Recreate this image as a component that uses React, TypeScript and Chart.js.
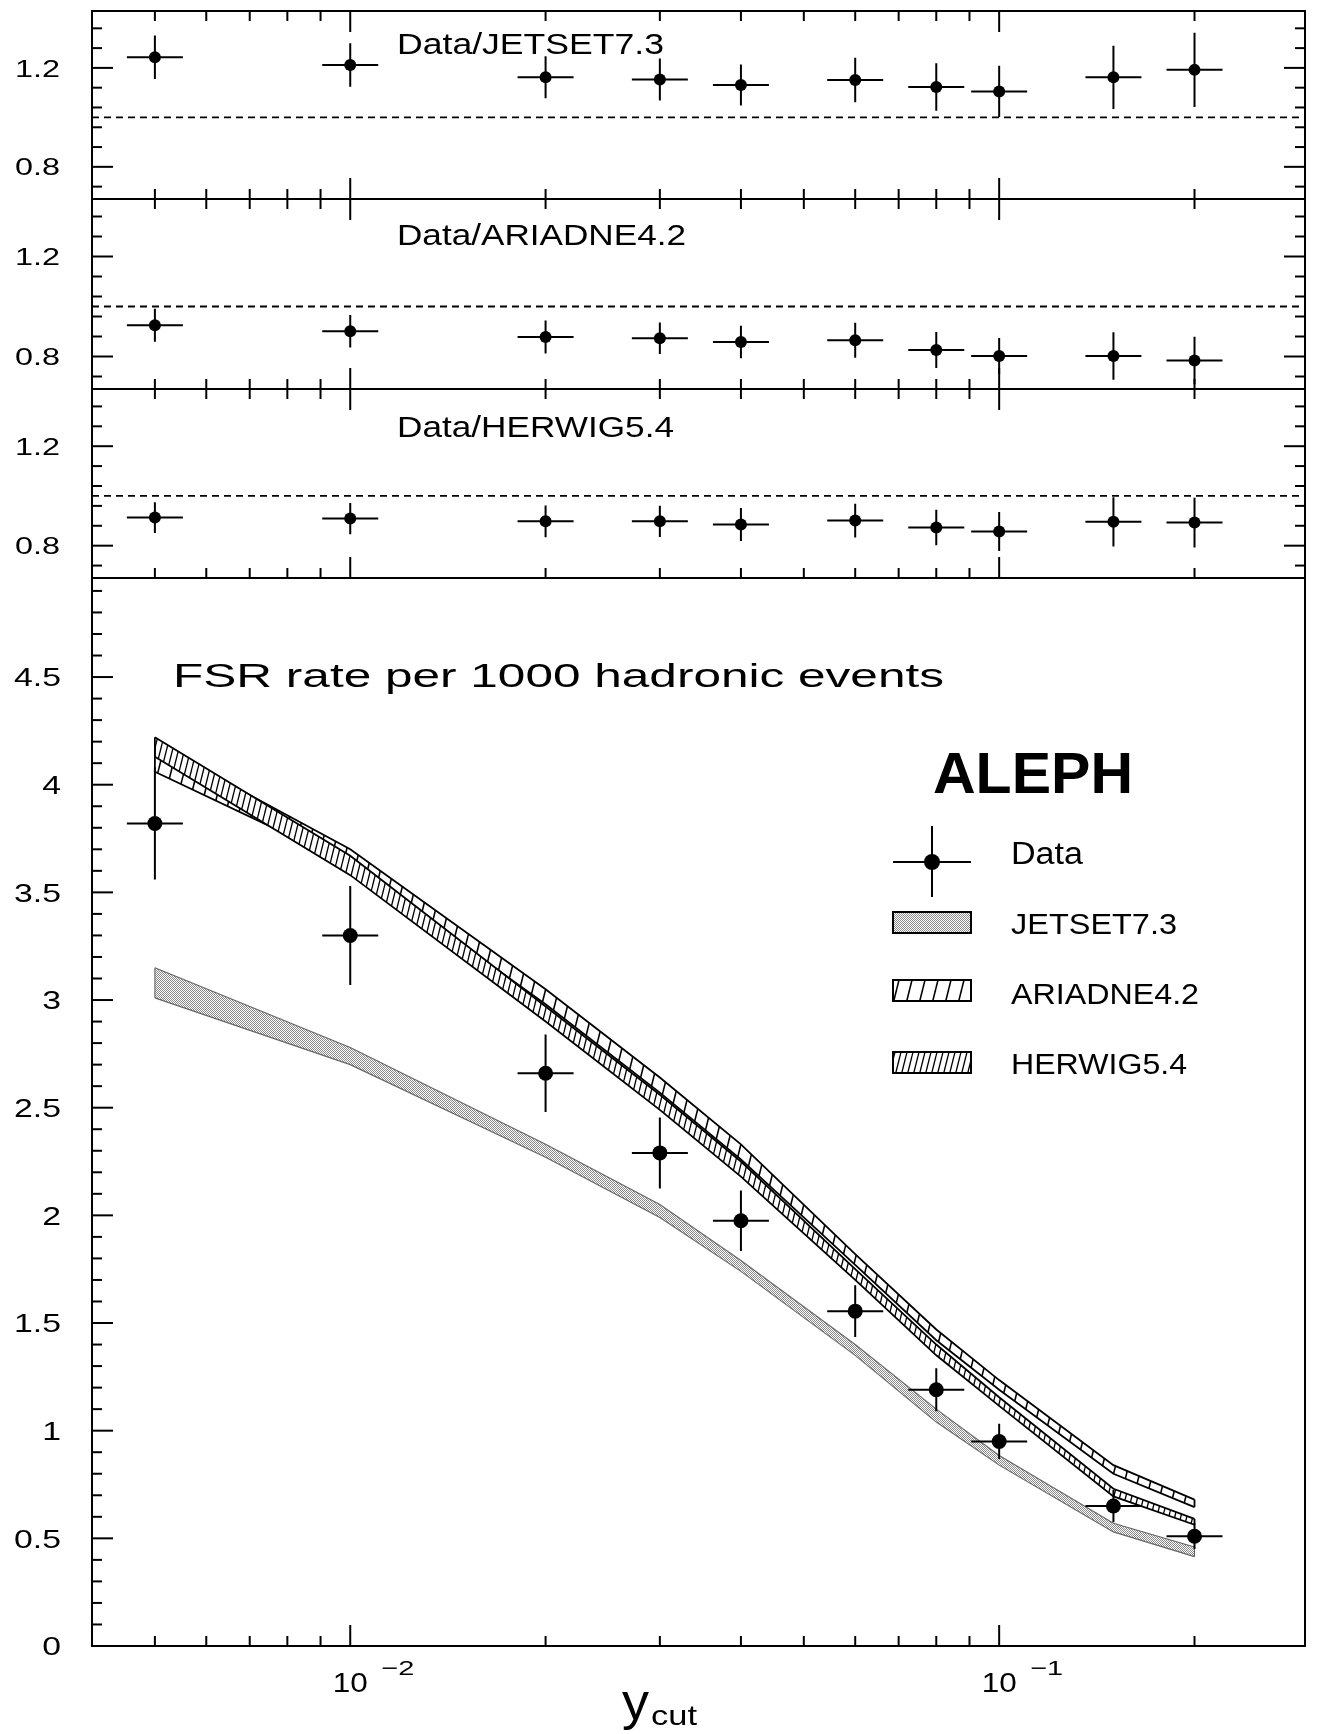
import React, { useEffect, useRef } from "react";
import { Chart, registerables } from "chart.js";

Chart.register(...registerables);

// ---------------- data ----------------
const yCut = [0.005, 0.01, 0.02, 0.03, 0.04, 0.06, 0.08, 0.1, 0.15, 0.2];

const fsrRate = [3.82, 3.3, 2.66, 2.29, 1.975, 1.555, 1.19, 0.95, 0.65, 0.51];
const fsrErr = [0.26, 0.23, 0.18, 0.165, 0.14, 0.12, 0.1, 0.082, 0.075, 0.06];

const jetsetLow = [3.01, 2.7, 2.27, 1.99, 1.74, 1.35, 1.04, 0.84, 0.53, 0.415];
const jetsetHigh = [3.15, 2.78, 2.33, 2.05, 1.79, 1.4, 1.1, 0.885, 0.57, 0.46];
const ariadneLow = [4.06, 3.63, 2.98, 2.57, 2.26, 1.77, 1.42, 1.19, 0.8, 0.645];
const ariadneHigh = [4.19, 3.7, 3.05, 2.64, 2.33, 1.82, 1.47, 1.235, 0.84, 0.68];
const herwigLow = [4.13, 3.58, 2.9, 2.49, 2.18, 1.7, 1.35, 1.115, 0.695, 0.563];
const herwigHigh = [4.22, 3.67, 2.97, 2.56, 2.25, 1.75, 1.4, 1.155, 0.73, 0.59];

const ratioJetset = [1.243, 1.212, 1.162, 1.153, 1.131, 1.151, 1.123, 1.105, 1.162, 1.192];
const ratioJetsetErr = [0.088, 0.088, 0.085, 0.085, 0.083, 0.09, 0.096, 0.104, 0.128, 0.15];
const ratioAriadne = [0.925, 0.901, 0.878, 0.873, 0.858, 0.865, 0.826, 0.802, 0.802, 0.784];
const ratioAriadneErr = [0.066, 0.065, 0.066, 0.063, 0.065, 0.07, 0.072, 0.072, 0.095, 0.095];
const ratioHerwig = [0.913, 0.909, 0.898, 0.898, 0.885, 0.901, 0.873, 0.857, 0.896, 0.893];
const ratioHerwigErr = [0.062, 0.063, 0.064, 0.063, 0.066, 0.068, 0.071, 0.078, 0.099, 0.1];
const ratioRef = 1.0;

// tick definitions
const xMajorTicks = [0.01, 0.1];
const xMajorExponents = ["\u22122", "\u22121"];
const xMinorTicks = [0.005, 0.006, 0.007, 0.008, 0.009, 0.02, 0.03, 0.04, 0.05, 0.06, 0.07, 0.08, 0.09, 0.2];
const ratioMajorTicks = [0.8, 1.2];
const ratioMajorLabels = ["0.8", "1.2"];
const ratioMinorTicks = [0.72, 0.88, 0.96, 1.04, 1.12, 1.28, 1.36];
const mainMajorTicks = [0, 0.5, 1, 1.5, 2, 2.5, 3, 3.5, 4, 4.5];
const mainMajorLabels = ["0", "0.5", "1", "1.5", "2", "2.5", "3", "3.5", "4", "4.5"];
const mainMinorTicks = [
  0.1, 0.2, 0.3, 0.4, 0.6, 0.7, 0.8, 0.9, 1.1, 1.2, 1.3, 1.4, 1.6, 1.7, 1.8, 1.9,
  2.1, 2.2, 2.3, 2.4, 2.6, 2.7, 2.8, 2.9, 3.1, 3.2, 3.3, 3.4, 3.6, 3.7, 3.8, 3.9,
  4.1, 4.2, 4.3, 4.4, 4.6, 4.7, 4.8, 4.9,
];

// ---------------- layout / style ----------------
const W = 1323;
const H = 1734;
const X_MIN = 0.004;
const X_MAX = 0.296;
const FRAME_L = 92;
const FRAME_R = 1305;
const RATIO_MIN = 0.67;
const RATIO_MAX = 1.43;
const MAIN_MIN = 0;
const MAIN_MAX = 4.96;
const FONT = "'Liberation Sans', Arial, sans-serif";

const RATIO_PANELS = [
  { top: 11, bottom: 199, title: "Data/JETSET7.3", titleRight: 664, titleBase: 54, values: ratioJetset, errors: ratioJetsetErr, topTicks: true },
  { top: 199, bottom: 389, title: "Data/ARIADNE4.2", titleRight: 686, titleBase: 245, values: ratioAriadne, errors: ratioAriadneErr, topTicks: true },
  { top: 389, bottom: 578, title: "Data/HERWIG5.4", titleRight: 674, titleBase: 437, values: ratioHerwig, errors: ratioHerwigErr, topTicks: true },
];
const MAIN_TOP = 578;
const MAIN_BOTTOM = 1646;

function drawText(
  ctx: CanvasRenderingContext2D,
  text: string,
  x: number,
  baseline: number,
  font: string,
  align: "left" | "right" | "center",
  opt: { width?: number; scaleX?: number } = {}
) {
  ctx.save();
  ctx.font = font;
  ctx.fillStyle = "#000";
  ctx.textAlign = "left";
  ctx.textBaseline = "alphabetic";
  const m = ctx.measureText(text).width;
  const sx = opt.width ? opt.width / m : opt.scaleX ?? 1;
  const w = m * sx;
  const left = align === "left" ? x : align === "right" ? x - w : x - w / 2;
  ctx.translate(left, baseline);
  ctx.scale(sx, 1);
  ctx.fillText(text, 0, 0);
  ctx.restore();
}

function makePattern(kind: "stipple" | "ariadne" | "herwig"): CanvasPattern {
  const c = document.createElement("canvas");
  if (kind === "stipple") {
    c.width = 2;
    c.height = 2;
    const g = c.getContext("2d")!;
    g.fillStyle = "#fff";
    g.fillRect(0, 0, 2, 2);
    g.fillStyle = "#8a8a8a";
    g.fillRect(0, 0, 1, 1);
    g.fillRect(1, 1, 1, 1);
    return g.createPattern(c, "repeat")!;
  }
  const w = kind === "ariadne" ? 13 : 6;
  const h = w * 4;
  c.width = w;
  c.height = h;
  const g = c.getContext("2d")!;
  g.fillStyle = "#fff";
  g.fillRect(0, 0, w, h);
  g.strokeStyle = "#000";
  g.lineWidth = kind === "ariadne" ? 1.6 : 1.3;
  for (const o of [-w, 0, w]) {
    g.beginPath();
    g.moveTo(o + w, 0);
    g.lineTo(o, h);
    g.stroke();
  }
  return g.createPattern(c, "repeat")!;
}

// frame + inward ticks + y labels
const frameAxesPlugin = {
  id: "frameAxes",
  afterDraw(chart: any, _args: any, opts: any) {
    const ctx: CanvasRenderingContext2D = chart.ctx;
    const { left, right, top, bottom } = chart.chartArea;
    const xs = chart.scales.x;
    const ys = chart.scales.y;
    ctx.save();
    ctx.strokeStyle = "#000";
    ctx.lineWidth = 2;
    ctx.beginPath();
    ctx.rect(left, top, right - left, bottom - top);
    ctx.stroke();
    const tick = (x1: number, y1: number, x2: number, y2: number) => {
      ctx.beginPath();
      ctx.moveTo(x1, y1);
      ctx.lineTo(x2, y2);
      ctx.stroke();
    };
    const xt = [
      ...xMinorTicks.map((v) => ({ v, len: 10 })),
      ...xMajorTicks.map((v) => ({ v, len: 21 })),
    ];
    for (const t of xt) {
      const px = xs.getPixelForValue(t.v);
      if (px <= left + 1 || px >= right - 1) continue;
      tick(px, bottom, px, bottom - t.len);
      if (opts.topTicks) tick(px, top, px, top + t.len);
    }
    const yt = [
      ...opts.minor.map((v: number) => ({ v, len: 10 })),
      ...opts.major.map((v: number) => ({ v, len: 21 })),
    ];
    for (const t of yt) {
      const py = ys.getPixelForValue(t.v);
      if (py < top - 0.5 || py > bottom + 0.5) continue;
      tick(left, py, left + t.len, py);
      if (opts.rightTicks) tick(right, py, right - t.len, py);
    }
    ctx.restore();
    opts.major.forEach((v: number, i: number) => {
      const py = ys.getPixelForValue(v);
      drawText(ctx, opts.labels[i], opts.labelRight, py + opts.labelSize * 0.36, `${opts.labelSize}px ${FONT}`, "right", {
        scaleX: opts.labelScale,
      });
    });
  },
};

// error bars + band end caps
const errorBarsPlugin = {
  id: "errorBars",
  afterDatasetsDraw(chart: any, _args: any, opts: any) {
    const ctx: CanvasRenderingContext2D = chart.ctx;
    const ys = chart.scales.y;
    const { left, right, top, bottom } = chart.chartArea;
    ctx.save();
    ctx.beginPath();
    ctx.rect(left, top, right - left, bottom - top);
    ctx.clip();
    for (const [lo, hi, color, lw] of opts.caps || []) {
      const mLo = chart.getDatasetMeta(lo).data;
      const mHi = chart.getDatasetMeta(hi).data;
      ctx.strokeStyle = color;
      ctx.lineWidth = lw;
      for (const k of [0, mLo.length - 1]) {
        ctx.beginPath();
        ctx.moveTo(mLo[k].x, mLo[k].y);
        ctx.lineTo(mHi[k].x, mHi[k].y);
        ctx.stroke();
      }
    }
    const ds = chart.data.datasets[opts.index];
    const meta = chart.getDatasetMeta(opts.index);
    ctx.strokeStyle = "#000";
    ctx.lineWidth = opts.lineWidth;
    meta.data.forEach((el: any, i: number) => {
      const v = ds.data[i].y;
      const e = opts.errors[i];
      const y1 = ys.getPixelForValue(v + e);
      const y2 = ys.getPixelForValue(v - e);
      ctx.beginPath();
      ctx.moveTo(el.x, y1);
      ctx.lineTo(el.x, y2);
      ctx.moveTo(el.x - opts.halfWidth, el.y);
      ctx.lineTo(el.x + opts.halfWidth, el.y);
      ctx.stroke();
    });
    ctx.restore();
  },
};

// main panel decorations: title, legend, x labels
const mainDecorPlugin = {
  id: "mainDecor",
  afterDraw(chart: any, _args: any, opts: any) {
    const ctx: CanvasRenderingContext2D = chart.ctx;
    const xs = chart.scales.x;
    drawText(ctx, "FSR rate per 1000 hadronic events", 173, 687, `34px ${FONT}`, "left", { width: 771 });
    drawText(ctx, "ALEPH", 933, 793, `bold 58px ${FONT}`, "left", { width: 200 });
    ctx.save();
    ctx.strokeStyle = "#000";
    ctx.lineWidth = 2;
    ctx.beginPath();
    ctx.moveTo(893, 862);
    ctx.lineTo(971, 862);
    ctx.moveTo(932, 826);
    ctx.lineTo(932, 897);
    ctx.stroke();
    ctx.fillStyle = "#000";
    ctx.beginPath();
    ctx.arc(932, 862, 8, 0, Math.PI * 2);
    ctx.fill();
    const sw = [
      { pat: opts.stipple, y: 912, label: "JETSET7.3", base: 934, w: 166 },
      { pat: opts.ariadne, y: 980, label: "ARIADNE4.2", base: 1004, w: 188 },
      { pat: opts.herwig, y: 1052, label: "HERWIG5.4", base: 1074, w: 176 },
    ];
    for (const s of sw) {
      ctx.fillStyle = s.pat;
      ctx.fillRect(893, s.y, 78, 21);
      ctx.strokeStyle = "#000";
      ctx.lineWidth = 2;
      ctx.strokeRect(893, s.y, 78, 21);
    }
    ctx.restore();
    drawText(ctx, "Data", 1011, 864, `31px ${FONT}`, "left", { width: 72 });
    for (const s of sw) drawText(ctx, s.label, 1011, s.base, `29px ${FONT}`, "left", { width: s.w });
    xMajorTicks.forEach((v, i) => {
      const px = xs.getPixelForValue(v);
      drawText(ctx, "10", px, 1692, `28px ${FONT}`, "center", { width: 35 });
      drawText(ctx, xMajorExponents[i], px + 31, 1675, `21px ${FONT}`, "left", { width: 33 });
    });
    drawText(ctx, "y", 622, 1719, `52px ${FONT}`, "left", { width: 27 });
    drawText(ctx, "cut", 651, 1725, `28px ${FONT}`, "left", { width: 46 });
  },
};

function pts(vals: number[]) {
  return yCut.map((x, i) => ({ x, y: vals[i] }));
}

function baseOptions(top: number, bottom: number, yMin: number, yMax: number) {
  return {
    responsive: false,
    animation: false as const,
    devicePixelRatio: 1,
    events: [] as any[],
    layout: { padding: { left: FRAME_L, right: W - FRAME_R, top, bottom: H - bottom } },
    scales: {
      x: { type: "logarithmic" as const, min: X_MIN, max: X_MAX, display: false },
      y: { type: "linear" as const, min: yMin, max: yMax, display: false },
    },
  };
}

function ratioConfig(p: (typeof RATIO_PANELS)[number]): any {
  return {
    type: "line",
    data: {
      datasets: [
        {
          data: [
            { x: X_MIN, y: ratioRef },
            { x: X_MAX, y: ratioRef },
          ],
          borderColor: "#000",
          borderWidth: 1.8,
          borderDash: [7, 5],
          pointRadius: 0,
          order: 2,
        },
        {
          data: pts(p.values),
          showLine: false,
          pointRadius: 6,
          pointBackgroundColor: "#000",
          pointBorderWidth: 0,
          order: 0,
        },
      ],
    },
    options: {
      ...baseOptions(p.top, p.bottom, RATIO_MIN, RATIO_MAX),
      plugins: {
        legend: { display: false },
        tooltip: { enabled: false },
        frameAxes: {
          topTicks: p.topTicks,
          rightTicks: true,
          major: ratioMajorTicks,
          labels: ratioMajorLabels,
          minor: ratioMinorTicks,
          labelRight: 60,
          labelSize: 24,
          labelScale: 1.35,
        },
        errorBars: { index: 1, errors: p.errors, halfWidth: 28, lineWidth: 2 },
      },
    },
    plugins: [frameAxesPlugin, errorBarsPlugin, {
      id: "ratioTitle",
      afterDraw(chart: any) {
        drawText(chart.ctx, p.title, 397, p.titleBase, `29px ${FONT}`, "left", { width: p.titleRight - 397 });
      },
    }],
  };
}

function mainConfig(pat: { stipple: CanvasPattern; ariadne: CanvasPattern; herwig: CanvasPattern }): any {
  const band = (vals: number[], color: string, width: number, order: number, extra: any = {}) => ({
    data: pts(vals),
    borderColor: color,
    borderWidth: width,
    pointRadius: 0,
    tension: 0,
    fill: false,
    order,
    ...extra,
  });
  return {
    type: "line",
    data: {
      datasets: [
        band(jetsetLow, "#666", 1.1, 3),
        band(jetsetHigh, "#666", 1.1, 3, { fill: "-1", backgroundColor: pat.stipple }),
        band(ariadneLow, "#000", 1.8, 2),
        band(ariadneHigh, "#000", 1.8, 2, { fill: "-1", backgroundColor: pat.ariadne }),
        band(herwigLow, "#000", 1.8, 1),
        band(herwigHigh, "#000", 1.8, 1, { fill: "-1", backgroundColor: pat.herwig }),
        {
          data: pts(fsrRate),
          showLine: false,
          pointRadius: 7.5,
          pointBackgroundColor: "#000",
          pointBorderWidth: 0,
          order: 0,
        },
      ],
    },
    options: {
      ...baseOptions(MAIN_TOP, MAIN_BOTTOM, MAIN_MIN, MAIN_MAX),
      plugins: {
        legend: { display: false },
        tooltip: { enabled: false },
        filler: { propagate: false },
        frameAxes: {
          topTicks: false,
          rightTicks: false,
          major: mainMajorTicks,
          labels: mainMajorLabels,
          minor: mainMinorTicks,
          labelRight: 61,
          labelSize: 26,
          labelScale: 1.3,
        },
        errorBars: {
          index: 6,
          errors: fsrErr,
          halfWidth: 28,
          lineWidth: 2,
          caps: [
            [0, 1, "#666", 1.1],
            [2, 3, "#000", 1.8],
            [4, 5, "#000", 1.8],
          ],
        },
        mainDecor: pat,
      },
    },
    plugins: [frameAxesPlugin, errorBarsPlugin, mainDecorPlugin],
  };
}

export default function App() {
  const r0 = useRef<HTMLCanvasElement>(null);
  const r1 = useRef<HTMLCanvasElement>(null);
  const r2 = useRef<HTMLCanvasElement>(null);
  const r3 = useRef<HTMLCanvasElement>(null);
  const refs = [r0, r1, r2, r3];

  useEffect(() => {
    const pat = {
      stipple: makePattern("stipple"),
      ariadne: makePattern("ariadne"),
      herwig: makePattern("herwig"),
    };
    const charts: Chart[] = [];
    RATIO_PANELS.forEach((p, i) => {
      charts.push(new Chart(refs[i].current!, ratioConfig(p)));
    });
    charts.push(new Chart(r3.current!, mainConfig(pat)));
    return () => charts.forEach((c) => c.destroy());
  }, []);

  return (
    <div style={{ position: "absolute", left: 0, top: 0, width: W, height: H, background: "#fff", overflow: "hidden" }}>
      {refs.map((r, i) => (
        <canvas key={i} ref={r} width={W} height={H} style={{ position: "absolute", left: 0, top: 0 }} />
      ))}
    </div>
  );
}
